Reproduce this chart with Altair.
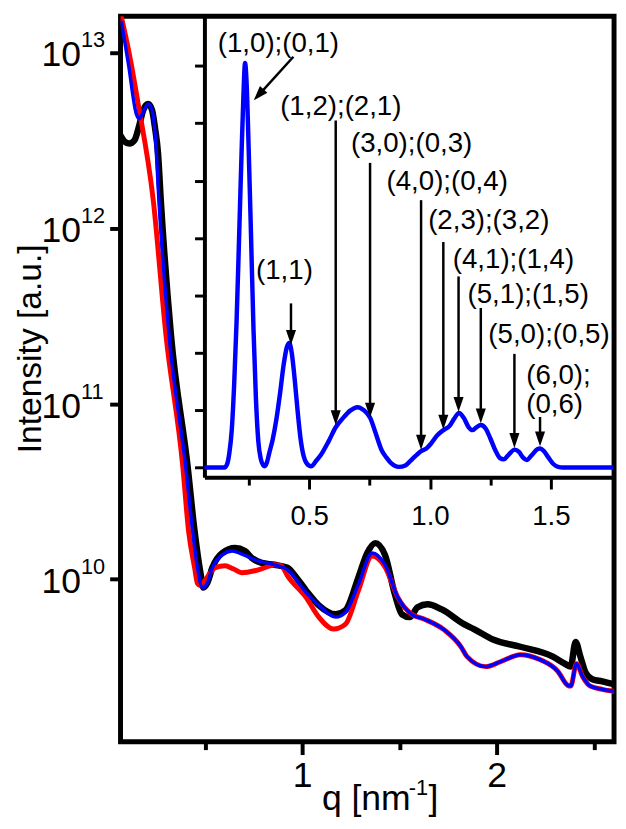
import altair as alt
import pandas as pd

FONT = "Liberation Sans"
W, H = 500, 735

# ---------------- main panel: q [nm^-1] and log10(intensity) ----------------
black_q = [0.066, 0.086, 0.112, 0.137, 0.162, 0.183, 0.208, 0.228, 0.244, 0.259,
           0.274, 0.325, 0.411, 0.447, 0.477, 0.492, 0.513, 0.538, 0.589, 0.655,
           0.706, 0.741, 0.792, 0.858, 0.924, 0.970, 1.020, 1.086, 1.173, 1.223,
           1.289, 1.335, 1.376, 1.426, 1.477, 1.513, 1.553, 1.594, 1.645, 1.716,
           1.832, 1.883, 1.985, 2.122, 2.289, 2.350, 2.381, 2.406, 2.431, 2.457,
           2.492, 2.543, 2.604]
black_logI = [12.526, 12.493, 12.481, 12.498, 12.583, 12.672, 12.706, 12.672, 12.565, 12.425,
              12.144, 11.397, 10.644, 10.274, 10.037, 9.953, 9.981, 10.066, 10.150, 10.178,
              10.161, 10.122, 10.094, 10.083, 10.066, 10.010, 9.937, 9.852, 9.801, 9.824,
              10.010, 10.150, 10.206, 10.139, 9.914, 9.801, 9.785, 9.841, 9.858, 9.830,
              9.745, 9.717, 9.656, 9.616, 9.560, 9.520, 9.503, 9.644, 9.560, 9.470,
              9.431, 9.419, 9.403]

blue_q = [0.071, 0.107, 0.147, 0.162, 0.183, 0.208, 0.228, 0.244, 0.264, 0.315,
          0.401, 0.437, 0.462, 0.487, 0.513, 0.538, 0.589, 0.640, 0.690, 0.772,
          0.858, 0.924, 1.020, 1.086, 1.173, 1.223, 1.289, 1.360, 1.426, 1.492,
          1.563, 1.629, 1.731, 1.817, 1.848, 1.944, 2.020, 2.122, 2.223, 2.315,
          2.365, 2.381, 2.411, 2.442, 2.482, 2.543, 2.604]
blue_logI = [13.172, 12.931, 12.650, 12.622, 12.661, 12.706, 12.672, 12.537, 12.144, 11.397,
             10.644, 10.274, 10.066, 9.953, 9.981, 10.066, 10.139, 10.161, 10.144, 10.105,
             10.083, 10.055, 9.926, 9.852, 9.785, 9.813, 9.970, 10.150, 10.083, 9.897,
             9.801, 9.773, 9.712, 9.616, 9.560, 9.503, 9.531, 9.571, 9.543, 9.476,
             9.397, 9.392, 9.520, 9.447, 9.392, 9.374, 9.363]

red_q = [0.066, 0.107, 0.157, 0.234, 0.299, 0.386, 0.416, 0.447, 0.462, 0.477,
         0.503, 0.553, 0.604, 0.645, 0.690, 0.756, 0.807, 0.858, 0.893, 0.924,
         1.020, 1.086, 1.162, 1.223, 1.289, 1.360, 1.426, 1.492, 1.563, 1.629,
         1.731, 1.817, 1.848, 1.944, 2.020, 2.122, 2.223, 2.315, 2.365, 2.381,
         2.411, 2.442, 2.482, 2.543, 2.604]
red_logI = [13.223, 13.015, 12.706, 12.161, 11.397, 10.644, 10.274, 10.066, 9.976, 9.964,
            9.998, 10.066, 10.077, 10.060, 10.038, 10.049, 10.066, 10.083, 10.077, 10.021,
            9.897, 9.785, 9.717, 9.745, 9.936, 10.133, 10.071, 9.897, 9.801, 9.773,
            9.712, 9.616, 9.560, 9.503, 9.531, 9.571, 9.543, 9.476, 9.397, 9.392,
            9.520, 9.447, 9.392, 9.374, 9.363]

y_exponents = [10, 11, 12, 13]
x_tick_values = [0.5, 1, 1.5, 2, 2.5]

# ---------------- inset: model curve ----------------
inset_q = [0.067, 0.150, 0.160, 0.170, 0.180, 0.190, 0.200, 0.210, 0.220, 0.228,
           0.235, 0.242, 0.250, 0.260, 0.270, 0.280, 0.290, 0.300, 0.310, 0.316,
           0.325, 0.335, 0.350, 0.365, 0.380, 0.395, 0.408, 0.418, 0.428, 0.440,
           0.452, 0.464, 0.476, 0.490, 0.508, 0.530, 0.549, 0.580, 0.610, 0.640,
           0.670, 0.700, 0.725, 0.753, 0.775, 0.800, 0.820, 0.840, 0.870, 0.900,
           0.920, 0.945, 0.965, 0.985, 1.005, 1.030, 1.055, 1.080, 1.100, 1.120,
           1.140, 1.160, 1.175, 1.192, 1.210, 1.230, 1.250, 1.270, 1.290, 1.305,
           1.325, 1.350, 1.368, 1.385, 1.400, 1.420, 1.445, 1.455, 1.470, 1.490,
           1.510, 1.530, 1.550, 1.757]
inset_val = [0.0, 0.0, 0.05, 0.25, 0.65, 1.45, 2.55, 3.95, 5.40, 6.45,
             7.05, 6.65, 5.55, 4.00, 2.40, 1.20, 0.45, 0.15, 0.04, 0.02,
             0.08, 0.25, 0.50, 0.85, 1.30, 1.80, 2.10, 2.17, 2.00, 1.55,
             1.00, 0.52, 0.22, 0.07, 0.02, 0.12, 0.22, 0.45, 0.70, 0.86,
             0.99, 1.05, 1.00, 0.86, 0.60, 0.30, 0.17, 0.07, 0.01, 0.04,
             0.12, 0.22, 0.29, 0.33, 0.42, 0.56, 0.65, 0.72, 0.85, 0.95,
             0.86, 0.70, 0.65, 0.70, 0.74, 0.68, 0.50, 0.30, 0.16, 0.14,
             0.22, 0.31, 0.27, 0.17, 0.13, 0.21, 0.32, 0.33, 0.29, 0.17,
             0.06, 0.01, 0.0, 0.0]

# annotation labels (centred)
lab_text = ["(1,0);(0,1)", "(1,1)", "(1,2);(2,1)", "(3,0);(0,3)", "(4,0);(0,4)",
            "(2,3);(3,2)", "(4,1);(1,4)", "(5,1);(1,5)", "(5,0);(0,5)"]
lab_q = [0.373, 0.398, 0.631, 0.924, 1.071, 1.243, 1.345, 1.406, 1.492]
lab_y = [7.38, 3.43, 6.29, 5.64, 4.97, 4.29, 3.62, 3.00, 2.31]
# annotation labels (left aligned)
lab2_text = ["(6,0);", "(0,6)"]
lab2_q = [1.398, 1.398]
lab2_y = [1.60, 1.09]

# arrows: shaft start, shaft end, tip, head angle
arr_q0 = [0.435, 0.425, 0.610, 0.752, 0.963, 1.055, 1.118, 1.210, 1.349, 1.455]
arr_y0 = [7.16, 2.86, 6.05, 5.31, 4.66, 3.93, 3.33, 2.78, 1.98, 0.88]
arr_q1 = [0.293, 0.425, 0.610, 0.752, 0.963, 1.055, 1.118, 1.210, 1.349, 1.455]
arr_y1 = [6.50, 2.30, 0.90, 1.04, 0.48, 0.83, 1.14, 0.94, 0.51, 0.54]
tip_q = [0.271, 0.425, 0.610, 0.752, 0.963, 1.055, 1.118, 1.210, 1.349, 1.455]
tip_y = [6.40, 2.14, 0.74, 0.87, 0.31, 0.66, 0.97, 0.77, 0.34, 0.37]
tip_angle = [42, 0, 0, 0, 0, 0, 0, 0, 0, 0]
inset_ytick_values = [0, 1, 2, 3, 4, 5, 6, 7]
inset_xtick_values = [0.25, 0.5, 0.75, 1.0, 1.25, 1.5]

# ---------------- scales & axes ----------------
xs_main = alt.Scale(domain=[0.066, 2.604], nice=False, zero=False)
ys_main = alt.Scale(type="log", domain=[1.19e9, 1.607e13], nice=False)

x_axis_main = alt.Axis(
    values=x_tick_values,
    labelExpr="datum.value % 1 == 0 ? toString(datum.value) : ''",
    tickSize={"condition": {"test": "datum.value % 1 == 0", "value": 13}, "value": 8},
    tickWidth=4, tickColor="black", domain=False, grid=False,
    labelFont=FONT, labelFontSize=36, labelColor="black", labelPadding=4,
    labelFlush=False, labelOverlap=False, title=None)
y_axis_main = alt.Axis(
    values=[10.0 ** e for e in y_exponents], labels=False, tickSize=11,
    tickWidth=4, tickColor="black", domain=False, grid=False, title=None)

xs_in = alt.Scale(domain=[0.067, 1.757], range=[85, 499], nice=False, zero=False)
ys_in = alt.Scale(domain=[-0.17, 7.867], range=[467, 0], nice=False, zero=False)
x_axis_in = alt.Axis(
    orient="bottom", offset=-268, values=inset_xtick_values,
    labelExpr="(datum.value * 2) % 1 == 0 ? format(datum.value, '.1f') : ''",
    tickSize={"condition": {"test": "(datum.value * 2) % 1 == 0", "value": 12}, "value": 8},
    tickWidth=3, tickColor="black", domain=True, domainWidth=4, domainColor="black",
    grid=False, labelFont=FONT, labelFontSize=28, labelColor="black", labelPadding=14,
    labelFlush=False, labelOverlap=False, title=None)
y_axis_in = alt.Axis(
    orient="left", offset=-85, values=inset_ytick_values, labels=False,
    tickSize=10, tickWidth=3, tickColor="black", domain=True, domainWidth=4,
    domainColor="black", grid=False, title=None)


def curve(q, logI, color, width):
    df = pd.DataFrame({"q": q, "I": [10.0 ** v for v in logI]})
    return alt.Chart(df).mark_line(color=color, strokeWidth=width, clip=True,
                                   interpolate="monotone",
                                   strokeJoin="round", strokeCap="round").encode(
        x=alt.X("q:Q", scale=xs_main, axis=x_axis_main),
        y=alt.Y("I:Q", scale=ys_main, axis=y_axis_main))


ylab_df = pd.DataFrame({"I": [10.0 ** e for e in y_exponents],
                        "exp": [str(e) for e in y_exponents]})
ylab_base = alt.Chart(ylab_df).mark_text(
    text="10", font=FONT, fontSize=36, align="right", baseline="alphabetic",
    dy=14, color="black").encode(
    x=alt.value(-40), y=alt.Y("I:Q", scale=ys_main, axis=y_axis_main))
ylab_exp = alt.Chart(ylab_df).mark_text(
    font=FONT, fontSize=22, align="left", baseline="alphabetic", dy=-5,
    color="black").encode(
    x=alt.value(-40), y=alt.Y("I:Q", scale=ys_main, axis=y_axis_main),
    text="exp:N")

ytitle = alt.Chart(pd.DataFrame({"t": ["Intensity [a.u.]"]})).mark_text(
    font=FONT, fontSize=34, angle=270, align="center", baseline="middle",
    color="black").encode(x=alt.value(-91), y=alt.value(337), text="t:N")
xtitle_a = alt.Chart(pd.DataFrame({"t": ["q [nm"]})).mark_text(
    font=FONT, fontSize=36, align="left", baseline="alphabetic",
    color="black").encode(x=alt.value(204), y=alt.value(804), text="t:N")
xtitle_b = alt.Chart(pd.DataFrame({"t": ["-1"]})).mark_text(
    font=FONT, fontSize=22, align="left", baseline="alphabetic",
    color="black").encode(x=alt.value(292), y=alt.value(789), text="t:N")
xtitle_c = alt.Chart(pd.DataFrame({"t": ["]"]})).mark_text(
    font=FONT, fontSize=36, align="left", baseline="alphabetic",
    color="black").encode(x=alt.value(312), y=alt.value(804), text="t:N")

main = alt.layer(
    curve(black_q, black_logI, "#000000", 6.5),
    curve(red_q, red_logI, "#ff0000", 5),
    curve(blue_q, blue_logI, "#0000ff", 3.5),
    ylab_base, ylab_exp, ytitle, xtitle_a, xtitle_b, xtitle_c,
)

# ---------------- inset layers ----------------
inset_df = pd.DataFrame({"q": inset_q, "v": inset_val})
inset_line = alt.Chart(inset_df).mark_line(
    color="#0000ff", strokeWidth=4.5, interpolate="monotone").encode(
    x=alt.X("q:Q", scale=xs_in, axis=x_axis_in),
    y=alt.Y("v:Q", scale=ys_in, axis=y_axis_in))

lab_df = pd.DataFrame({"q": lab_q, "v": lab_y, "t": lab_text})
labels_c = alt.Chart(lab_df).mark_text(
    font=FONT, fontSize=28, align="center", baseline="middle", color="black").encode(
    x=alt.X("q:Q", scale=xs_in, axis=x_axis_in),
    y=alt.Y("v:Q", scale=ys_in, axis=y_axis_in), text="t:N")
lab2_df = pd.DataFrame({"q": lab2_q, "v": lab2_y, "t": lab2_text})
labels_l = alt.Chart(lab2_df).mark_text(
    font=FONT, fontSize=28, align="left", baseline="middle", color="black").encode(
    x=alt.X("q:Q", scale=xs_in, axis=x_axis_in),
    y=alt.Y("v:Q", scale=ys_in, axis=y_axis_in), text="t:N")

arr_df = pd.DataFrame({"q0": arr_q0, "v0": arr_y0, "q1": arr_q1, "v1": arr_y1})
shafts = alt.Chart(arr_df).mark_rule(color="black", strokeWidth=2.5).encode(
    x=alt.X("q0:Q", scale=xs_in, axis=x_axis_in), x2="q1:Q",
    y=alt.Y("v0:Q", scale=ys_in, axis=y_axis_in), y2="v1:Q")
head_df = pd.DataFrame({"q": tip_q, "v": tip_y, "a": tip_angle})
heads = alt.Chart(head_df).mark_point(
    shape="M0,0L-0.34,-1L0.34,-1Z", filled=True, size=900, color="black",
    opacity=1, strokeWidth=0).encode(
    x=alt.X("q:Q", scale=xs_in, axis=x_axis_in),
    y=alt.Y("v:Q", scale=ys_in, axis=y_axis_in),
    angle=alt.Angle("a:Q", scale=None))

inset = alt.layer(inset_line, shafts, heads, labels_c, labels_l)

chart = alt.layer(main, inset).resolve_scale(
    x="independent", y="independent"
).properties(
    width=W, height=H,
    padding={"left": 114, "top": 3, "right": 4, "bottom": 75},
    autosize=alt.AutoSizeParams(type="none"),
    background="white",
).configure_view(stroke="black", strokeWidth=5)

chart.save("out.html", embed_options={"renderer": "svg", "actions": False})
